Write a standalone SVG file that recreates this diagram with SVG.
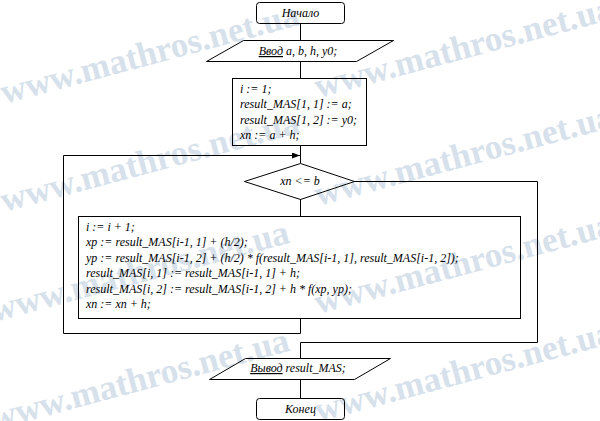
<svg xmlns="http://www.w3.org/2000/svg" width="600" height="421" viewBox="0 0 600 421">
<style>
.wm{font-family:"Liberation Serif","Times New Roman",serif;font-weight:bold;font-size:35px;fill:#d6e1eb;}
.shape{fill:none;stroke:#000;stroke-width:1;}
.ln{fill:none;stroke:#000;stroke-width:1;}
.t{font-family:"Liberation Serif","Times New Roman",serif;font-style:italic;font-size:12px;fill:#000;}
.c{text-anchor:middle;}
.u{text-decoration:underline;}
</style>
<defs>
<marker id="arr" markerWidth="8" markerHeight="6" refX="8" refY="3" orient="auto" markerUnits="userSpaceOnUse">
<path d="M0,0 L8,3 L0,6 Z" fill="#000"/>
</marker>
</defs>
<rect width="600" height="421" fill="#fff"/>
<g id="watermark">
<text class="wm" transform="translate(4,104) rotate(-15)">www.mathros.net.ua</text>
<text class="wm" transform="translate(318,98) rotate(-15)">www.mathros.net.ua</text>
<text class="wm" transform="translate(4,212) rotate(-15)">www.mathros.net.ua</text>
<text class="wm" transform="translate(318,206) rotate(-15)">www.mathros.net.ua</text>
<text class="wm" transform="translate(-6,322) rotate(-15)">www.mathros.net.ua</text>
<text class="wm" transform="translate(318,314) rotate(-15)">www.mathros.net.ua</text>
<text class="wm" transform="translate(-6,430) rotate(-15)">www.mathros.net.ua</text>
<text class="wm" transform="translate(318,422) rotate(-15)">www.mathros.net.ua</text>
</g>
<g id="connectors">
<line class="ln" x1="300.5" y1="23" x2="300.5" y2="40"/>
<line class="ln" x1="300.5" y1="61" x2="300.5" y2="78"/>
<line class="ln" x1="300.5" y1="145" x2="300.5" y2="163"/>
<line class="ln" x1="300.5" y1="199" x2="300.5" y2="216"/>
<polyline class="ln" points="300.5,318 300.5,333.5 63.5,333.5 63.5,155.5 300,155.5" marker-end="url(#arr)"/>
<polyline class="ln" points="354,181.5 537.5,181.5 537.5,342.5 300.5,342.5 300.5,358"/>
<line class="ln" x1="300.5" y1="379" x2="300.5" y2="398"/>
</g>
<g id="start">
<rect class="shape" x="256.5" y="2.5" width="88" height="21" rx="3"/>
<text class="t c" x="300.5" y="17">Начало</text>
</g>
<g id="input">
<polygon class="shape" points="243.5,40.5 393.5,40.5 356.5,61.5 206.5,61.5"/>
<text class="t c" x="298" y="55"><tspan class="u">Ввод</tspan> a, b, h, y0;</text>
</g>
<g id="init">
<rect class="shape" x="232.5" y="78.5" width="134" height="67"/>
<text class="t" x="240" y="93">i := 1;</text>
<text class="t" x="240" y="108">result_MAS[1, 1] := a;</text>
<text class="t" x="240" y="124">result_MAS[1, 2] := y0;</text>
<text class="t" x="240" y="139">xn := a + h;</text>
</g>
<g id="condition">
<polygon class="shape" points="300.5,163.5 354.5,181.5 300.5,199.5 244.5,181.5"/>
<text class="t c" x="300" y="185">xn &lt;= b</text>
</g>
<g id="body">
<rect class="shape" x="78.5" y="216.5" width="442" height="102"/>
<text class="t" x="86" y="231">i := i + 1;</text>
<text class="t" x="86" y="246">xp := result_MAS[i-1, 1] + (h/2);</text>
<text class="t" x="86" y="262">yp := result_MAS[i-1, 2] + (h/2) * f(result_MAS[i-1, 1], result_MAS[i-1, 2]);</text>
<text class="t" x="86" y="277">result_MAS[i, 1] := result_MAS[i-1, 1] + h;</text>
<text class="t" x="86" y="293">result_MAS[i, 2] := result_MAS[i-1, 2] + h * f(xp, yp);</text>
<text class="t" x="86" y="308">xn := xn + h;</text>
</g>
<g id="output">
<polygon class="shape" points="245.5,358.5 390.5,358.5 354.5,379.5 209.5,379.5"/>
<text class="t c" x="298" y="372"><tspan class="u">Вывод</tspan> result_MAS;</text>
</g>
<g id="end">
<rect class="shape" x="256.5" y="398.5" width="88" height="21" rx="3"/>
<text class="t c" x="300.5" y="413">Конец</text>
</g>
</svg>
